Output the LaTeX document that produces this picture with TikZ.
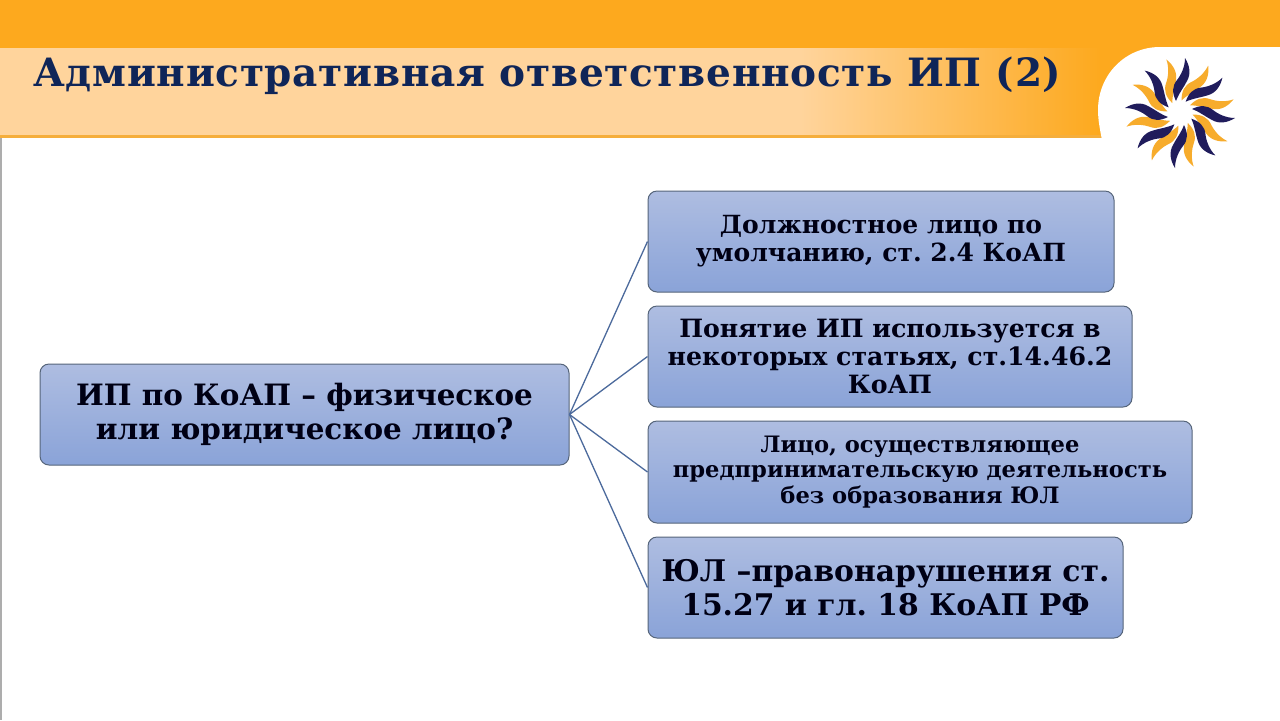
\documentclass[tikz,border=0pt]{standalone}
\usepackage{fontspec}
\setmainfont{DejaVu Serif}[BoldFont={DejaVu Serif Bold}]
\definecolor{barorange}{HTML}{FDA91E}
\definecolor{peach}{HTML}{FFD49C}
\definecolor{bandline}{HTML}{F5AE3C}
\definecolor{titleblue}{HTML}{0F2558}
\definecolor{logonavy}{HTML}{201C5C}
\definecolor{logoorange}{HTML}{F7AC2C}
\definecolor{boxtop}{HTML}{AEBDE1}
\definecolor{boxbot}{HTML}{8AA3D8}
\definecolor{boxline}{HTML}{56657A}
\definecolor{conn}{HTML}{4C6A9C}
\tikzset{
  pbox/.style={draw=boxline,line width=0.5pt,rounded corners=4.5pt,top color=boxtop,bottom color=boxbot,
    align=center,text=black!92!blue,inner sep=0pt},
  link/.style={draw=conn,line width=0.65pt},
  ray/.pic={\fill[#1,x=0.5pt,y=0.5pt] (-4,12) .. controls (-8,20) and (-8,27) .. (-3,33) .. controls (1,38) and (5,46) .. (5,55) .. controls (10,47) and (11,39) .. (7,32) .. controls (4,26) and (-1,20) .. (-4,12) -- cycle;}
}
\begin{document}
\frenchspacing
\begin{tikzpicture}[x=0.5pt,y=-0.5pt]
\useasboundingbox (0,0) rectangle (1280,720);
\fill[white] (0,0) rectangle (1280,720);
\fill[black!32] (0,138) rectangle (1.5,720);
\fill[peach] (0,47) rectangle (800,135);
\shade[left color=peach,right color=barorange] (800,47) rectangle (1100,135);
\fill[barorange] (1099.5,47) rectangle (1170,135);
\fill[bandline] (0,135) rectangle (1104,138);
\fill[barorange] (0,0) rectangle (1280,47.5);
\fill[white] (1160,47) -- (1280,47) -- (1280,140) -- (1102,140) .. controls (1100,130) and (1098,120) .. (1098,110) .. controls (1098,75) and (1125,47) .. (1160,47) -- cycle;
\node[anchor=west,inner sep=0pt,text=titleblue,font=\fontsize{19.5}{22}\bfseries\addfontfeature{LetterSpace=1.8}] (title) at (33,76) {Административная ответственность ИП (2)};
\begin{scope}[shift={(1180,113)}]
\foreach \a in {0,45,...,315} {
  \pic[rotate=-\a-25.5] {ray=logoorange};
}
\foreach \a in {0,45,...,315} {
  \pic[rotate=-\a] {ray=logonavy};
}
\end{scope}
\node[pbox,minimum width=264.5pt,minimum height=50.5pt,font=\fontsize{14.7}{17}\bfseries] (main) at (304.5,414.5) {ИП по КоАП – физическое\\или юридическое лицо?};
\node[pbox,minimum width=233pt,minimum height=50.5pt,font=\fontsize{12.5}{14}\bfseries] (b1) at (881,241.5) {Должностное лицо по\\умолчанию, ст. 2.4 КоАП};
\node[pbox,minimum width=242pt,minimum height=50.5pt,font=\fontsize{12.6}{14}\bfseries] (b2) at (890,356.5) {Понятие ИП используется в\\некоторых статьях, ст.14.46.2\\КоАП};
\node[pbox,minimum width=272pt,minimum height=51pt,font=\fontsize{11.3}{12.7}\bfseries] (b3) at (920,472) {Лицо, осуществляющее\\предпринимательскую деятельность\\без образования ЮЛ};
\node[pbox,minimum width=237.5pt,minimum height=50.5pt,font=\fontsize{14.9}{17}\bfseries] (b4) at (885.5,587.5) {ЮЛ –правонарушения ст.\\15.27 и гл. 18 КоАП РФ};
\draw[link] (main.east) -- (b1.west);
\draw[link] (main.east) -- (b2.west);
\draw[link] (main.east) -- (b3.west);
\draw[link] (main.east) -- (b4.west);
\end{tikzpicture}
\end{document}
